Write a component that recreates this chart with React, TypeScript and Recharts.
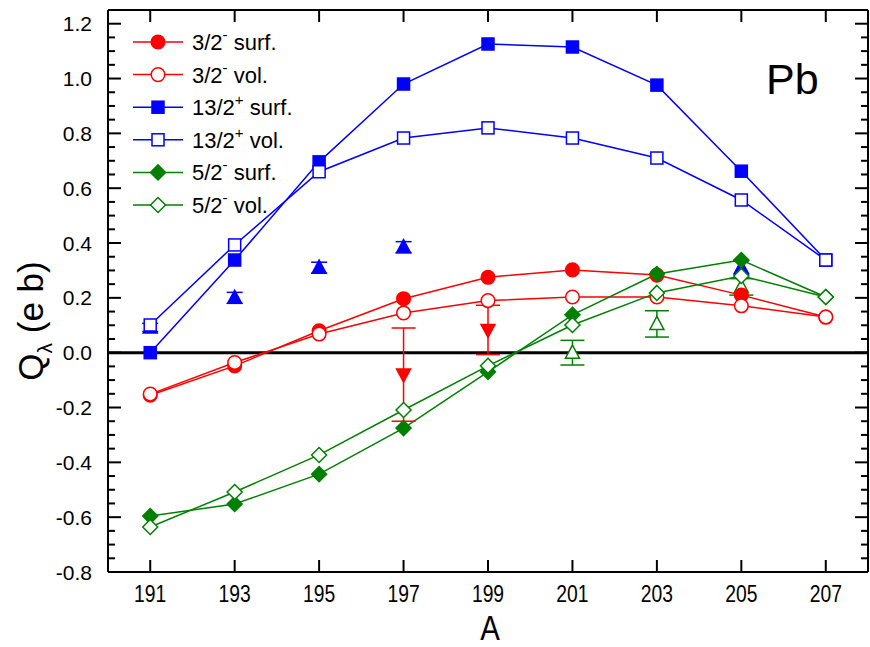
import {
  ComposedChart,
  ErrorBar,
  Legend,
  Line,
  ReferenceLine,
  Scatter,
  XAxis,
  YAxis,
} from "recharts";

// mass numbers and calculated quadrupole moments
const massNumbers = [191, 193, 195, 197, 199, 201, 203, 205, 207];
const q32Surf = [-0.155, -0.048, 0.08, 0.197, 0.275, 0.302, 0.283, 0.21, 0.13];
const q32Vol = [-0.151, -0.036, 0.068, 0.145, 0.19, 0.203, 0.203, 0.171, 0.13];
const q132Surf = [0.0, 0.338, 0.696, 0.98, 1.126, 1.115, 0.976, 0.662, 0.338];
const q132Vol = [0.101, 0.393, 0.66, 0.783, 0.82, 0.783, 0.71, 0.557, 0.338];
const q52Surf = [-0.596, -0.552, -0.443, -0.275, -0.07, 0.138, 0.287, 0.338, 0.203];
const q52Vol = [-0.636, -0.508, -0.373, -0.209, -0.048, 0.101, 0.218, 0.28, 0.203];

// experimental values with errors
const exp132A = [191, 193, 195, 197, 205];
const exp132Q = [0.092, 0.2, 0.31, 0.385, 0.31];
const exp132Err = [0.015, 0.02, 0.02, 0.02, 0.025];
const exp32A = [197, 199];
const exp32Q = [-0.08, 0.083];
const exp32Err = [0.17, 0.09];
const exp52A = [201, 203, 205];
const exp52Q = [0.0, 0.105, 0.24];
const exp52Err = [0.045, 0.048, 0.03];

const xTicks = [191, 193, 195, 197, 199, 201, 203, 205, 207];
const yMajor = [-0.8, -0.6, -0.4, -0.2, 0.0, 0.2, 0.4, 0.6, 0.8, 1.0, 1.2];
const yTicks = yMajor
  .flatMap((v) => [v, v + 0.05, v + 0.1, v + 0.15])
  .filter((v) => v <= 1.2001)
  .map((v) => Math.round(v * 100) / 100);

const RED = "#ff0000";
const BLUE = "#0000ff";
const GREEN = "#008000";
const SANS = "'Liberation Sans', Arial, sans-serif";

const data = massNumbers.map((a, i) => ({
  A: a,
  s32: q32Surf[i],
  v32: q32Vol[i],
  s132: q132Surf[i],
  v132: q132Vol[i],
  s52: q52Surf[i],
  v52: q52Vol[i],
}));

const toPoints = (as: number[], qs: number[], errs: number[]) =>
  as.map((a, i) => ({ A: a, q: qs[i], err: errs[i] }));

type Shape = "circle" | "square" | "diamond" | "up" | "down";

function Marker({ cx, cy, shape, color, filled }: { cx: number; cy: number; shape: Shape; color: string; filled: boolean }) {
  if (cx == null || cy == null) return null;
  const fill = filled ? color : "#fff";
  const sw = 1.5;
  if (shape === "circle") return <circle cx={cx} cy={cy} r={6.8} fill={fill} stroke={color} strokeWidth={sw} />;
  if (shape === "square")
    return <rect x={cx - 6} y={cy - 6} width={12} height={12} fill={fill} stroke={color} strokeWidth={sw} />;
  if (shape === "diamond")
    return (
      <polygon
        points={`${cx},${cy - 7.5} ${cx + 7.5},${cy} ${cx},${cy + 7.5} ${cx - 7.5},${cy}`}
        fill={fill}
        stroke={color}
        strokeWidth={sw}
      />
    );
  if (shape === "up")
    return (
      <polygon
        points={`${cx},${cy - 7.5} ${cx + 7},${cy + 5.5} ${cx - 7},${cy + 5.5}`}
        fill={fill}
        stroke={color}
        strokeWidth={sw}
      />
    );
  return (
    <polygon
      points={`${cx},${cy + 7.5} ${cx + 7},${cy - 5.5} ${cx - 7},${cy - 5.5}`}
      fill={fill}
      stroke={color}
      strokeWidth={sw}
    />
  );
}

const calcSeries = [
  { key: "s32", color: RED, shape: "circle" as Shape, filled: true, label: "3/2", sup: "-", rest: " surf." },
  { key: "v32", color: RED, shape: "circle" as Shape, filled: false, label: "3/2", sup: "-", rest: " vol." },
  { key: "s132", color: BLUE, shape: "square" as Shape, filled: true, label: "13/2", sup: "+", rest: " surf." },
  { key: "v132", color: BLUE, shape: "square" as Shape, filled: false, label: "13/2", sup: "+", rest: " vol." },
  { key: "s52", color: GREEN, shape: "diamond" as Shape, filled: true, label: "5/2", sup: "-", rest: " surf." },
  { key: "v52", color: GREEN, shape: "diamond" as Shape, filled: false, label: "5/2", sup: "-", rest: " vol." },
];

const BOTTOM_GAP = 10;
const LEFT_GAP = 16;

function BottomTick({ x, y, payload }: any) {
  const axisY = y - BOTTOM_GAP;
  return (
    <g>
      <line x1={x} x2={x} y1={axisY} y2={axisY - 12} stroke="#000" strokeWidth={2} />
      <text
        transform={`translate(${x},${axisY + 30}) scale(0.84,1)`}
        textAnchor="middle"
        fontFamily={SANS}
        fontSize={23}
        fill="#000"
      >
        {payload.value}
      </text>
    </g>
  );
}

function TopTick({ x, y }: any) {
  return <line x1={x} x2={x} y1={y} y2={y + 12} stroke="#000" strokeWidth={2} />;
}

const isMajor = (v: number) => Math.abs(v * 5 - Math.round(v * 5)) < 1e-6;

function LeftTick({ x, y, payload }: any) {
  const axisX = x + LEFT_GAP;
  const major = isMajor(payload.value);
  return (
    <g>
      <line x1={axisX} x2={axisX + (major ? 13 : 7)} y1={y} y2={y} stroke="#000" strokeWidth={2} />
      {major && (
        <text x={x} y={y + 7.5} textAnchor="end" fontFamily={SANS} fontSize={21} fill="#000">
          {payload.value.toFixed(1)}
        </text>
      )}
    </g>
  );
}

function RightTick({ x, y, payload }: any) {
  const major = isMajor(payload.value);
  return <line x1={x} x2={x - (major ? 13 : 7)} y1={y} y2={y} stroke="#000" strokeWidth={2} />;
}

function LegendBox() {
  return (
    <svg width={220} height={200}>
      {calcSeries.map((s, i) => {
        const cy = 16 + i * 32.6;
        return (
          <g key={s.key}>
            <line x1={5} x2={55} y1={cy} y2={cy} stroke={s.color} strokeWidth={1.5} />
            <Marker cx={30} cy={cy} shape={s.shape} color={s.color} filled={s.filled} />
            <text x={64} y={cy + 8} fontFamily={SANS} fontSize={22} fill="#000">
              {s.label}
              <tspan fontSize={15} dy={-10}>
                {s.sup}
              </tspan>
              <tspan dy={10}>{s.rest}</tspan>
            </text>
          </g>
        );
      })}
    </svg>
  );
}

export default function App() {
  const axisLine = { stroke: "#000", strokeWidth: 2 };
  return (
    <div style={{ position: "absolute", left: 0, top: 0, width: 870, height: 647, background: "#fff" }}>
      <ComposedChart width={870} height={647} data={data} margin={{ top: 0, right: 0, bottom: 0, left: 0 }}>
        <XAxis
          dataKey="A"
          type="number"
          domain={[190, 208]}
          ticks={xTicks}
          interval={0}
          height={75}
          tickSize={0}
          tickMargin={BOTTOM_GAP}
          axisLine={axisLine}
          tickLine={false}
          tick={<BottomTick />}
          label={{
            content: ({ viewBox }: any) => (
              <text
                transform={`translate(${viewBox.x + viewBox.width / 2 + 2},${viewBox.y + 68}) scale(0.84,1)`}
                textAnchor="middle"
                fontFamily={SANS}
                fontSize={35}
                fill="#000"
              >
                A
              </text>
            ),
          }}
        />
        <XAxis
          xAxisId="top"
          orientation="top"
          dataKey="A"
          type="number"
          domain={[190, 208]}
          ticks={xTicks}
          interval={0}
          height={10}
          tickSize={0}
          tickMargin={0}
          axisLine={axisLine}
          tickLine={false}
          tick={<TopTick />}
        />
        <YAxis
          type="number"
          domain={[-0.8, 1.25]}
          ticks={yTicks}
          interval={0}
          width={108}
          tickSize={0}
          tickMargin={LEFT_GAP}
          axisLine={axisLine}
          tickLine={false}
          tick={<LeftTick />}
          allowDataOverflow
          label={{
            content: ({ viewBox }: any) => {
              const cy = viewBox.y + viewBox.height / 2 + 30;
              return (
                <text
                  x={43}
                  y={cy}
                  transform={`rotate(-90 43 ${cy})`}
                  textAnchor="middle"
                  fontFamily={SANS}
                  fontSize={35}
                  fill="#000"
                >
                  Q
                  <tspan fontSize={21} dy={9}>
                    λ
                  </tspan>
                  <tspan dy={-9}> (e b)</tspan>
                </text>
              );
            },
          }}
        />
        <YAxis
          yAxisId="right"
          orientation="right"
          type="number"
          domain={[-0.8, 1.25]}
          ticks={yTicks}
          interval={0}
          width={2}
          tickSize={0}
          tickMargin={0}
          axisLine={axisLine}
          tickLine={false}
          tick={<RightTick />}
          allowDataOverflow
        />
        <ReferenceLine y={0} stroke="#000" strokeWidth={3} />
        {calcSeries.map((s) => (
          <Line
            key={s.key}
            dataKey={s.key}
            type="linear"
            stroke={s.color}
            strokeWidth={1.5}
            isAnimationActive={false}
            activeDot={false}
            legendType="none"
            dot={(p: any) => (
              <Marker key={`${s.key}-${p.index}`} cx={p.cx} cy={p.cy} shape={s.shape} color={s.color} filled={s.filled} />
            )}
          />
        ))}
        <Scatter
          data={toPoints(exp132A, exp132Q, exp132Err)}
          dataKey="q"
          isAnimationActive={false}
          legendType="none"
          shape={(p: any) => <Marker cx={p.cx} cy={p.cy} shape="up" color={BLUE} filled />}
        >
          <ErrorBar dataKey="err" direction="y" width={8} stroke={BLUE} strokeWidth={1.5} />
        </Scatter>
        <Scatter
          data={toPoints(exp32A, exp32Q, exp32Err)}
          dataKey="q"
          isAnimationActive={false}
          legendType="none"
          shape={(p: any) => <Marker cx={p.cx} cy={p.cy} shape="down" color={RED} filled />}
        >
          <ErrorBar dataKey="err" direction="y" width={12} stroke={RED} strokeWidth={1.5} />
        </Scatter>
        <Scatter
          data={toPoints(exp52A, exp52Q, exp52Err)}
          dataKey="q"
          isAnimationActive={false}
          legendType="none"
          shape={(p: any) => <Marker cx={p.cx} cy={p.cy} shape="up" color={GREEN} filled={false} />}
        >
          <ErrorBar dataKey="err" direction="y" width={12} stroke={GREEN} strokeWidth={1.5} />
        </Scatter>
        <Legend
          layout="vertical"
          align="center"
          verticalAlign="middle"
          content={() => <LegendBox />}
          wrapperStyle={{ left: 128, top: 26, width: 220, height: 200 }}
        />
      </ComposedChart>
      <div
        style={{
          position: "absolute",
          left: 766,
          top: 54,
          fontFamily: SANS,
          fontSize: 43,
          lineHeight: "50px",
          color: "#000",
        }}
      >
        Pb
      </div>
    </div>
  );
}
